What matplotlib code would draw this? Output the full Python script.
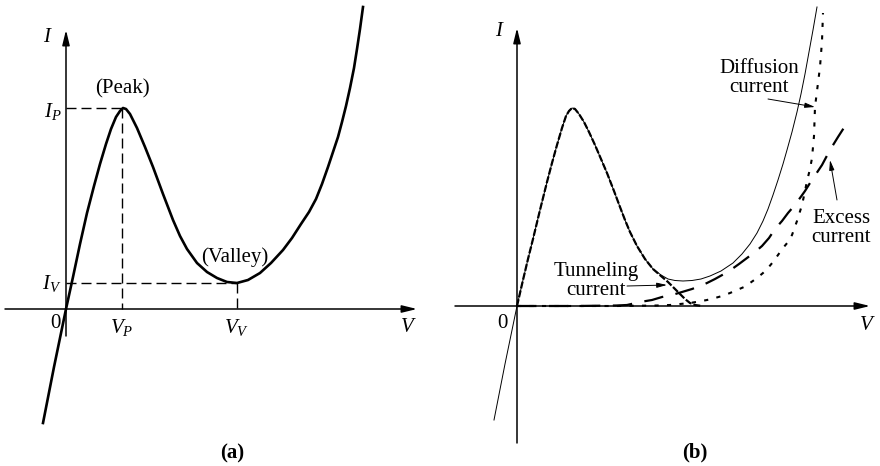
import matplotlib
matplotlib.use("Agg")
import matplotlib.pyplot as plt

plt.rcParams['font.family'] = ['Liberation Serif', 'DejaVu Serif']
plt.rcParams['mathtext.fontset'] = 'custom'
plt.rcParams['mathtext.rm'] = 'Liberation Serif'
plt.rcParams['mathtext.it'] = 'Liberation Serif:italic'
plt.rcParams['mathtext.bf'] = 'Liberation Serif:bold'
plt.rcParams['lines.scale_dashes'] = False

# ---------------- data (arbitrary units) ----------------
# Panel (a): total I-V characteristic
a_V = [-23, -12, 0, 7, 14, 21, 28, 34, 40, 45, 50, 54, 57, 60, 64, 71, 79, 87, 97, 107,
       114, 121, 131, 141, 151, 161, 171, 182, 194, 205, 217, 226, 235, 243, 250, 256,
       262, 267, 272, 276, 280, 284, 288, 291, 294, 297]
a_I = [-114, -58, 0, 32, 65, 96, 123, 145, 165, 180, 192, 198, 201, 200, 195, 181, 162,
       142, 115, 89, 73, 60, 46, 37, 31, 27, 26, 29, 36, 46, 59, 71, 85, 97, 110, 125,
       142, 157, 172, 187, 203, 221, 241, 260, 280, 302]
V_P, I_P = 56, 201
V_V, I_V = 171, 26

# Panel (b): total current and components
b_tot_V = [-23, -12, 0, 6, 11, 16, 23, 30, 35, 40, 45, 49, 52, 55, 58, 62, 67, 72, 78, 84,
           90, 97, 103, 108, 113, 120, 128, 136, 144, 151, 158, 166, 175, 184, 193, 204,
           216, 225, 233, 240, 246, 251, 256, 261, 266, 270, 275, 280, 284, 288, 292, 296, 300]
b_tot_I = [-114, -58, 0, 26, 47, 67, 96, 124, 143, 161, 178, 190, 195, 198, 197, 192, 184,
           174, 161, 147, 133, 115, 99, 86, 74, 60, 47, 37, 31, 27, 25.5, 25, 25.5, 27, 30,
           35, 43, 52, 62, 73, 85, 97, 111, 126, 142, 156, 174, 194, 212, 232, 254, 276, 299]

tun_V = [0, 6, 11, 16, 23, 30, 35, 40, 45, 49, 52, 55, 58, 62, 67, 72, 78, 84, 90, 97, 103,
         108, 113, 120, 128, 136, 144, 151, 157, 163, 168, 173, 178, 185]
tun_I = [0, 26, 47, 67, 96, 124, 143, 161, 178, 190, 195, 198, 197, 192, 184, 174, 161, 147,
         133, 115, 99, 86, 74, 60, 47, 37, 30, 24, 18, 12, 7, 3, 1, 0]

exc_V = [0, 60, 100, 110, 123, 135, 145, 155, 165, 175, 183, 190, 198, 207, 215, 222, 230,
         238, 245, 252, 258, 265, 271, 277, 283, 288, 293, 299, 305, 313, 321, 330]
exc_I = [0, 0, 0.5, 1, 4, 6, 9, 11, 14, 17, 20, 23, 27, 32, 37, 42, 48, 54, 60, 68, 77, 85,
         93, 100, 108, 115, 123, 132, 141, 156, 169, 183]

dif_V = [0, 100, 140, 153, 163, 173, 182, 190, 198, 205, 213, 220, 227, 233, 240, 246, 251,
         256, 261, 266, 271, 275, 280, 285, 288, 290, 293, 295, 297, 298, 300, 303, 305, 306]
dif_I = [0, 0, 0.5, 1, 2, 3, 4.5, 6, 8, 10, 13, 16, 19, 23, 28, 33, 38, 44, 51, 58, 64, 71,
         85, 101, 115, 125, 137, 148, 170, 199, 215, 239, 265, 293]

FS = 15

fig = plt.figure(figsize=(8.8, 4.66), dpi=100)
axA = fig.add_axes([0, 0, 0.5, 1])
axB = fig.add_axes([0.5, 0, 0.5, 1])
axA.set_xlim(-66, 374); axA.set_ylim(-157, 309)
axB.set_xlim(-77, 363); axB.set_ylim(-160, 306)
for ax in (axA, axB):
    ax.axis('off')

arrow_kw = dict(arrowstyle='-|>,head_length=0.9,head_width=0.22', lw=1.1, color='k',
                shrinkA=0, shrinkB=0)

def axes_arrows(ax, x0, x1, y0, y1):
    ax.annotate('', xy=(x1, 0), xytext=(x0, 0), arrowprops=arrow_kw)
    ax.annotate('', xy=(0, y1), xytext=(0, y0), arrowprops=arrow_kw)

# ---------------- panel (a) ----------------
axes_arrows(axA, -61, 351, -27, 279)
axA.plot(a_V, a_I, color='k', lw=1.9, solid_joinstyle='round')
dash = (0, (7.2, 3.6))
axA.plot([0, V_P], [I_P, I_P], color='k', lw=1.0, linestyle=dash)
axA.plot([V_P, V_P], [I_P, 0], color='k', lw=1.0, linestyle=dash)
axA.plot([0, V_V], [I_V, I_V], color='k', lw=1.0, linestyle=dash)
axA.plot([V_V, V_V], [I_V, 0], color='k', lw=1.0, linestyle=dash)

axA.text(-18, 271, r'$I$', fontsize=FS, ha='center', va='center')
axA.text(-13, 197, r'$I_P$', fontsize=FS, ha='center', va='center')
axA.text(-14, 26, r'$I_V$', fontsize=FS, ha='center', va='center')
axA.text(-11, -14, '0', fontsize=FS, ha='center', va='center')
axA.text(V_P, -19, r'$V_P$', fontsize=FS, ha='center', va='center')
axA.text(V_V, -19, r'$V_V$', fontsize=FS, ha='center', va='center')
axA.text(342, -19, r'$V$', fontsize=FS, ha='center', va='center')
axA.text(V_P, 220, '(Peak)', fontsize=FS, ha='center', va='center')
axA.text(169, 52, '(Valley)', fontsize=FS, ha='center', va='center')
axA.text(166, -144, '(a)', fontsize=FS, ha='center', va='center', fontweight='bold')

# ---------------- panel (b) ----------------
axes_arrows(axB, -62, 353, -137, 278)
axB.plot(b_tot_V, b_tot_I, color='k', lw=0.7, solid_joinstyle='round')
axB.plot(tun_V, tun_I, color='k', lw=1.6, linestyle=(0, (5, 1.5)))
axB.plot(exc_V, exc_I, color='k', lw=1.6, linestyle=(0, (14, 9)))
axB.plot(dif_V, dif_I, color='k', lw=1.5, linestyle=(0, (3, 6)))

axB.text(-17, 274, r'$I$', fontsize=FS, ha='center', va='center')
axB.text(-15, -17, '0', fontsize=FS, ha='center', va='center')
axB.text(350, -19, r'$V$', fontsize=FS, ha='center', va='center')

lab_arrow = dict(arrowstyle='-|>,head_length=0.6,head_width=0.15', lw=0.7, color='k',
                 shrinkA=0, shrinkB=0)
axB.text(242, 228, 'Diffusion\ncurrent', fontsize=FS, ha='center', va='center',
         linespacing=0.95)
axB.annotate('', xy=(298, 199), xytext=(251, 207), arrowprops=lab_arrow)
axB.text(79, 25, 'Tunneling\ncurrent', fontsize=FS, ha='center', va='center',
         linespacing=0.95)
axB.annotate('', xy=(150, 21), xytext=(110, 20), arrowprops=lab_arrow)
axB.text(324, 78, 'Excess\ncurrent', fontsize=FS, ha='center', va='center',
         linespacing=0.95)
axB.annotate('', xy=(313, 146), xytext=(320, 106), arrowprops=lab_arrow)
axB.text(178, -146, '(b)', fontsize=FS, ha='center', va='center', fontweight='bold')

fig.savefig('out.png', dpi=100, facecolor='white')
